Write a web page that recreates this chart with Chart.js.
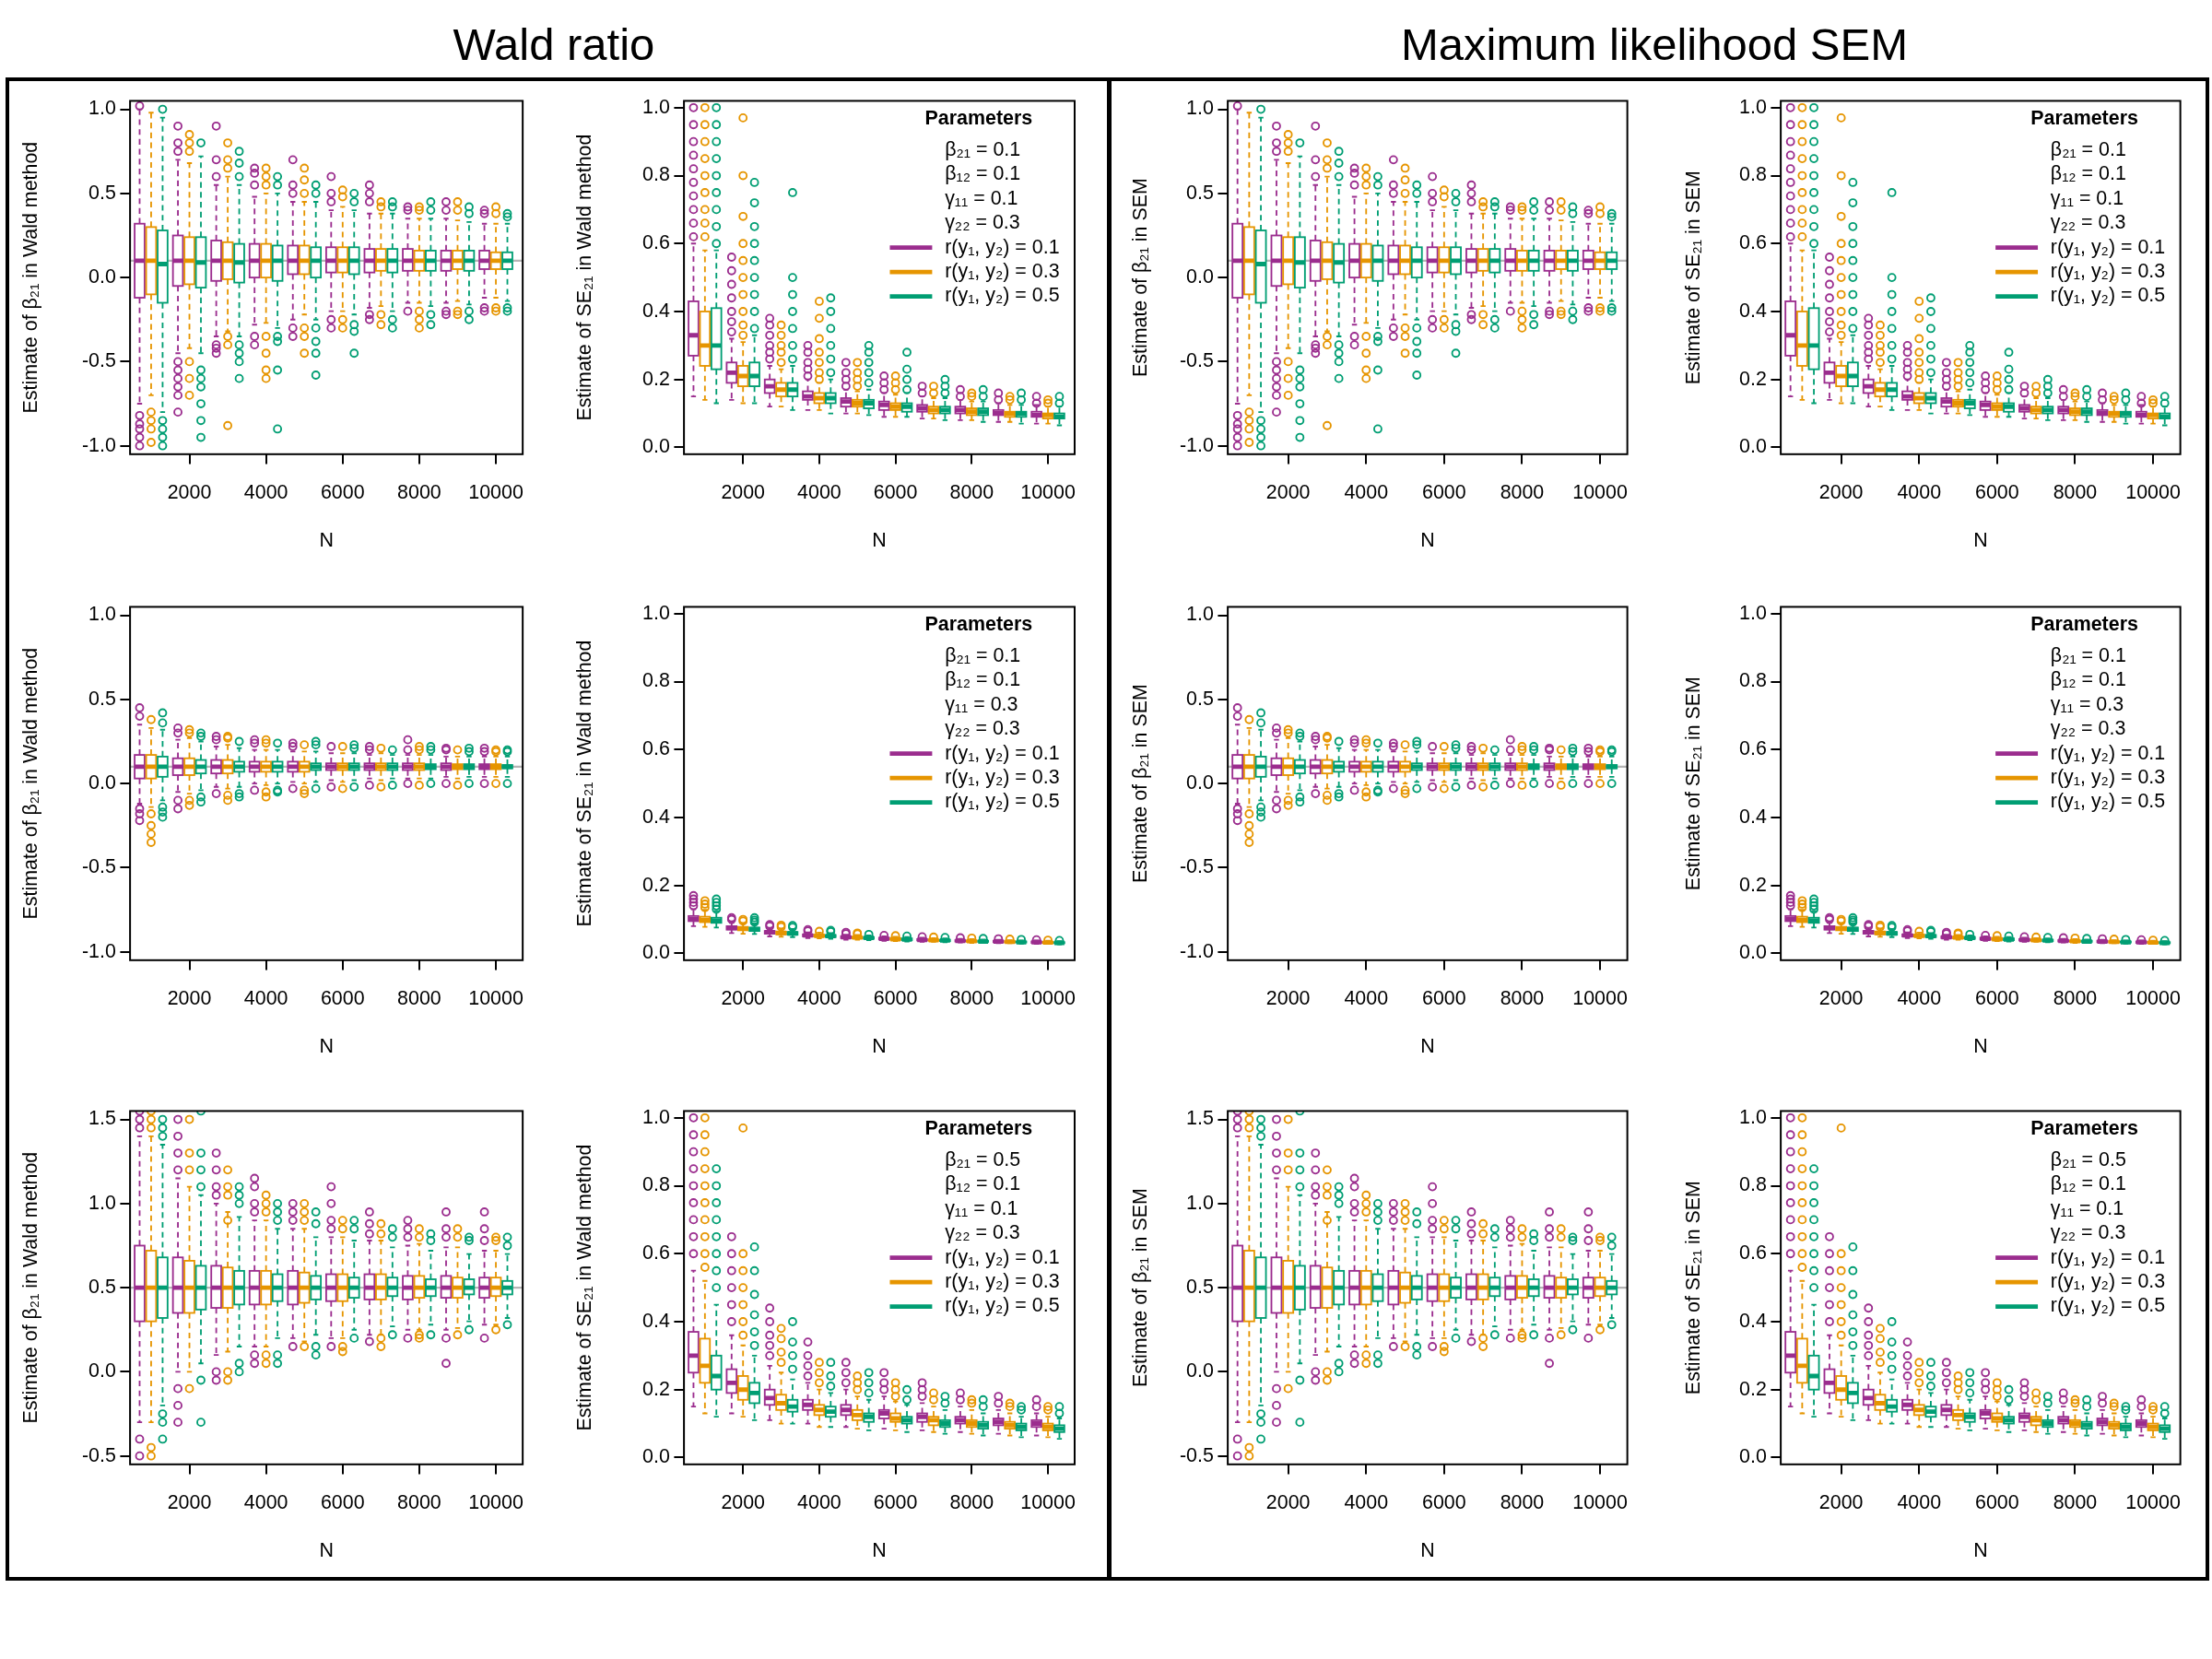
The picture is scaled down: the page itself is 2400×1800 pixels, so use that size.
<!DOCTYPE html>
<html>
<head>
<meta charset="utf-8">
<script src="https://cdn.jsdelivr.net/npm/chart.js@4"></script>
<style>
  body { margin: 0; background: #fff; }
  #page { position: relative; width: 2400px; height: 1800px; font-family: 'Liberation Sans', Arial, sans-serif; }
  .frame { position: absolute; border: 4px solid #000; box-sizing: border-box; }
  .title { position: absolute; font-size: 49px; text-align: center; width: 1190px; }
  canvas { position: absolute; }
</style>
</head>
<body>
<div id="page">
  <div class="title" style="left:6px;top:20px">Wald ratio</div>
  <div class="title" style="left:1200px;top:20px">Maximum likelihood SEM</div>
  <div class="frame" style="left:6px;top:84px;width:1200px;height:1631px"></div>
  <div class="frame" style="left:1201px;top:84px;width:1196px;height:1631px"></div>
</div>
<script>
const S = 2400 / 1568;
const COLORS = ['#9b2d8e', '#e69500', '#009e73'];
const nValues = [1000, 2000, 3000, 4000, 5000, 6000, 7000, 8000, 9000, 10000];
const xTicks = [2000, 4000, 6000, 8000, 10000];
const rValues = [0.1, 0.3, 0.5];

// five-number summaries [lowWhisker, q1, median, q3, highWhisker] per N
// row 1: beta21 = 0.1, gamma11 = 0.1
const r1BetaP = [[-0.75,-0.12,0.1,0.32,1.0],[-0.45,-0.05,0.1,0.25,0.7],[-0.35,-0.02,0.1,0.22,0.55],[-0.28,0.0,0.1,0.2,0.48],[-0.25,0.02,0.1,0.19,0.45],[-0.2,0.03,0.1,0.18,0.4],[-0.18,0.03,0.1,0.17,0.38],[-0.15,0.04,0.1,0.17,0.35],[-0.15,0.04,0.1,0.16,0.35],[-0.12,0.05,0.1,0.16,0.32]];
const r1BetaO = [[-0.7,-0.1,0.1,0.3,0.98],[-0.42,-0.04,0.1,0.24,0.68],[-0.32,-0.01,0.1,0.21,0.6],[-0.27,0.0,0.1,0.2,0.5],[-0.22,0.02,0.1,0.19,0.45],[-0.2,0.03,0.1,0.18,0.42],[-0.17,0.04,0.1,0.17,0.38],[-0.15,0.04,0.1,0.16,0.35],[-0.14,0.05,0.1,0.16,0.34],[-0.12,0.05,0.1,0.15,0.32]];
const r1BetaG = [[-0.8,-0.15,0.08,0.28,0.95],[-0.45,-0.06,0.09,0.24,0.72],[-0.35,-0.03,0.09,0.2,0.55],[-0.3,-0.02,0.1,0.19,0.5],[-0.25,0.0,0.1,0.18,0.45],[-0.22,0.02,0.1,0.18,0.4],[-0.2,0.03,0.1,0.17,0.38],[-0.17,0.04,0.1,0.16,0.35],[-0.16,0.04,0.1,0.16,0.33],[-0.14,0.05,0.1,0.15,0.32]];
const r1BetaPOut = [[-0.82,-0.87,-0.9,-0.95,-1.0,1.02],[-0.5,-0.55,-0.6,-0.65,-0.7,-0.8,0.75,0.8,0.9],[-0.4,-0.42,-0.45,0.6,0.7,0.9],[-0.35,-0.4,0.55,0.62,0.65],[-0.3,-0.35,0.5,0.55,0.7],[-0.25,-0.3,0.45,0.5,0.6],[-0.22,-0.25,0.45,0.5,0.55],[-0.2,0.4,0.42],[-0.2,-0.22,0.4,0.45],[-0.18,-0.2,0.38,0.4]];
const r1BetaOOut = [[-0.8,-0.85,-0.9,-0.98],[-0.5,-0.6,-0.7,0.75,0.8,0.85],[-0.35,-0.4,-0.88,0.65,0.7,0.8],[-0.35,-0.45,-0.55,-0.6,0.55,0.6,0.65],[-0.3,-0.35,-0.45,0.5,0.58,0.65],[-0.25,-0.3,0.48,0.52],[-0.22,-0.28,0.42,0.45],[-0.2,-0.25,-0.3,0.4,0.42],[-0.2,-0.22,0.4,0.45],[-0.18,-0.2,0.38,0.42]];
const r1BetaGOut = [[-0.85,-0.9,-0.95,-1.0,1.0],[-0.55,-0.6,-0.65,-0.75,-0.85,-0.95,0.8],[-0.4,-0.45,-0.5,-0.6,0.6,0.68,0.75],[-0.35,-0.38,-0.55,-0.9,0.55,0.6],[-0.3,-0.38,-0.45,-0.58,0.5,0.55],[-0.28,-0.32,-0.45,0.45,0.5],[-0.25,-0.3,0.42,0.45],[-0.22,-0.28,0.4,0.45],[-0.2,-0.25,0.38,0.42],[-0.18,-0.2,0.36,0.38]];

const r1SeP = [[0.15,0.27,0.33,0.43,0.6],[0.14,0.19,0.22,0.25,0.32],[0.12,0.16,0.18,0.2,0.24],[0.11,0.14,0.15,0.165,0.2],[0.1,0.12,0.135,0.145,0.17],[0.09,0.11,0.125,0.135,0.16],[0.085,0.105,0.115,0.125,0.15],[0.08,0.1,0.11,0.12,0.14],[0.075,0.095,0.1,0.11,0.13],[0.07,0.09,0.095,0.105,0.125]];
const r1SeO = [[0.14,0.24,0.3,0.4,0.58],[0.13,0.18,0.21,0.24,0.31],[0.12,0.15,0.17,0.19,0.23],[0.11,0.13,0.145,0.16,0.19],[0.1,0.12,0.13,0.14,0.165],[0.09,0.11,0.12,0.13,0.155],[0.085,0.1,0.11,0.12,0.145],[0.08,0.095,0.105,0.115,0.135],[0.075,0.09,0.1,0.105,0.125],[0.07,0.085,0.095,0.1,0.12]];
const r1SeG = [[0.13,0.23,0.3,0.41,0.58],[0.13,0.18,0.21,0.25,0.33],[0.11,0.15,0.17,0.19,0.24],[0.1,0.13,0.145,0.16,0.2],[0.095,0.115,0.13,0.14,0.17],[0.09,0.105,0.12,0.13,0.16],[0.08,0.1,0.11,0.12,0.145],[0.075,0.095,0.105,0.115,0.135],[0.07,0.09,0.1,0.105,0.125],[0.065,0.085,0.09,0.1,0.12]];
const r1SePOut = [[0.62,0.66,0.7,0.74,0.78,0.82,0.86,0.9,0.95,1.0],[0.34,0.37,0.4,0.44,0.48,0.52,0.56],[0.26,0.28,0.3,0.33,0.36,0.38],[0.21,0.23,0.25,0.28,0.3],[0.18,0.2,0.22,0.25],[0.17,0.19,0.21],[0.16,0.18],[0.15,0.17],[0.14,0.16],[0.13,0.15]];
const r1SeOOut = [[0.62,0.66,0.7,0.75,0.8,0.85,0.9,0.95,1.0],[0.33,0.36,0.4,0.45,0.5,0.55,0.6,0.68,0.8,0.97],[0.25,0.28,0.3,0.33,0.36],[0.2,0.22,0.25,0.28,0.32,0.38,0.43],[0.18,0.2,0.22,0.25],[0.17,0.19,0.21],[0.16,0.18],[0.15,0.16],[0.14,0.15],[0.13,0.14]];
const r1SeGOut = [[0.6,0.65,0.7,0.75,0.8,0.85,0.9,0.95,1.0],[0.35,0.4,0.45,0.5,0.55,0.6,0.65,0.72,0.78],[0.26,0.3,0.35,0.4,0.45,0.5,0.75],[0.22,0.26,0.3,0.35,0.4,0.44],[0.19,0.22,0.25,0.28,0.3],[0.17,0.2,0.23,0.28],[0.16,0.18,0.2],[0.15,0.17],[0.14,0.16],[0.13,0.15]];

// row 2: beta21 = 0.1, gamma11 = 0.3
const r2BetaP = [[-0.12,0.03,0.1,0.17,0.35],[-0.05,0.05,0.1,0.15,0.26],[-0.02,0.06,0.1,0.14,0.22],[0.0,0.07,0.1,0.13,0.2],[0.01,0.07,0.1,0.13,0.19],[0.02,0.08,0.1,0.12,0.18],[0.03,0.08,0.1,0.12,0.17],[0.03,0.08,0.1,0.12,0.17],[0.04,0.08,0.1,0.12,0.16],[0.04,0.085,0.1,0.115,0.16]];
const r2BetaO = [[-0.14,0.03,0.1,0.17,0.33],[-0.06,0.05,0.1,0.15,0.27],[-0.03,0.06,0.1,0.14,0.23],[-0.01,0.07,0.1,0.13,0.2],[0.0,0.07,0.1,0.13,0.19],[0.01,0.08,0.1,0.12,0.18],[0.02,0.08,0.1,0.12,0.18],[0.03,0.08,0.1,0.12,0.17],[0.03,0.085,0.1,0.115,0.16],[0.04,0.085,0.1,0.115,0.16]];
const r2BetaG = [[-0.1,0.04,0.1,0.16,0.32],[-0.04,0.06,0.1,0.14,0.25],[-0.02,0.07,0.1,0.13,0.21],[0.0,0.07,0.1,0.13,0.2],[0.01,0.08,0.1,0.12,0.19],[0.02,0.08,0.1,0.12,0.18],[0.03,0.08,0.1,0.12,0.17],[0.03,0.085,0.1,0.115,0.17],[0.04,0.085,0.1,0.115,0.16],[0.04,0.09,0.1,0.11,0.16]];
const r2BetaPOut = [[-0.15,-0.18,-0.22,0.4,0.45],[-0.1,-0.15,0.3,0.33],[-0.06,0.26,0.28],[-0.04,0.24,0.26],[-0.03,0.22,0.24],[-0.02,0.22],[-0.01,0.2,0.22],[0.0,0.2,0.26],[0.0,0.2,0.21],[0.0,0.19,0.21]];
const r2BetaOOut = [[-0.18,-0.25,-0.3,-0.35,0.38],[-0.1,-0.13,0.3,0.32],[-0.07,-0.1,0.27,0.28],[-0.05,-0.08,0.24,0.26],[-0.04,-0.06,0.23],[-0.03,0.22],[-0.02,0.21],[-0.01,0.2,0.22],[-0.01,0.2],[0.0,0.19,0.2]];
const r2BetaGOut = [[-0.14,-0.17,-0.2,0.36,0.42],[-0.08,-0.11,0.28,0.3],[-0.06,-0.08,0.25],[-0.04,-0.05,0.24],[-0.03,0.23,0.25],[-0.02,0.21,0.23],[-0.01,0.2],[0.0,0.2,0.22],[0.0,0.19,0.21],[0.0,0.19,0.2]];

const r2SeP = [[0.08,0.095,0.1,0.11,0.13],[0.06,0.07,0.075,0.08,0.09],[0.05,0.058,0.062,0.066,0.075],[0.045,0.05,0.053,0.056,0.062],[0.04,0.045,0.048,0.05,0.055],[0.037,0.041,0.043,0.046,0.05],[0.034,0.038,0.04,0.042,0.046],[0.032,0.035,0.037,0.039,0.043],[0.03,0.033,0.035,0.037,0.04],[0.028,0.031,0.033,0.035,0.038]];
const r2SeO = [[0.078,0.092,0.098,0.108,0.128],[0.058,0.068,0.073,0.078,0.088],[0.049,0.056,0.06,0.064,0.073],[0.044,0.049,0.052,0.055,0.061],[0.04,0.044,0.047,0.049,0.054],[0.036,0.04,0.042,0.045,0.049],[0.034,0.037,0.039,0.041,0.045],[0.031,0.034,0.036,0.038,0.042],[0.03,0.032,0.034,0.036,0.039],[0.028,0.03,0.032,0.034,0.037]];
const r2SeG = [[0.076,0.09,0.096,0.105,0.125],[0.057,0.066,0.071,0.076,0.086],[0.048,0.055,0.059,0.063,0.072],[0.043,0.048,0.051,0.054,0.06],[0.039,0.043,0.046,0.048,0.053],[0.035,0.039,0.041,0.044,0.048],[0.033,0.036,0.038,0.04,0.044],[0.031,0.034,0.035,0.037,0.041],[0.029,0.032,0.033,0.035,0.038],[0.027,0.03,0.031,0.033,0.036]];
const r2SePOut = [[0.14,0.15,0.16,0.17],[0.1,0.105],[0.08,0.085],[0.066,0.07],[0.058,0.062],[0.053],[0.049],[0.046],[0.043],[0.04]];
const r2SeOOut = [[0.135,0.145,0.155],[0.095,0.1],[0.078,0.083],[0.065],[0.057,0.06],[0.052],[0.048],[0.045],[0.042],[0.039]];
const r2SeGOut = [[0.13,0.14,0.15,0.16],[0.092,0.098,0.105],[0.077,0.082],[0.064,0.068],[0.056],[0.051],[0.047],[0.044],[0.041],[0.038]];

// row 3: beta21 = 0.5, gamma11 = 0.1
const r3BetaP = [[-0.3,0.3,0.5,0.75,1.4],[0.0,0.35,0.5,0.68,1.15],[0.1,0.38,0.5,0.63,1.0],[0.15,0.4,0.5,0.6,0.9],[0.2,0.4,0.5,0.6,0.85],[0.2,0.42,0.5,0.58,0.8],[0.22,0.43,0.5,0.58,0.78],[0.25,0.43,0.5,0.57,0.75],[0.25,0.44,0.5,0.57,0.74],[0.28,0.44,0.5,0.56,0.72]];
const r3BetaO = [[-0.3,0.3,0.5,0.72,1.4],[0.0,0.35,0.5,0.66,1.1],[0.12,0.38,0.5,0.62,0.95],[0.15,0.4,0.5,0.6,0.9],[0.18,0.41,0.5,0.59,0.85],[0.2,0.42,0.5,0.58,0.8],[0.22,0.43,0.5,0.58,0.78],[0.25,0.44,0.5,0.57,0.76],[0.26,0.44,0.5,0.56,0.74],[0.28,0.45,0.5,0.56,0.72]];
const r3BetaG = [[-0.2,0.32,0.5,0.68,1.35],[0.05,0.37,0.5,0.63,1.05],[0.15,0.4,0.5,0.6,0.92],[0.2,0.42,0.5,0.58,0.85],[0.22,0.43,0.5,0.57,0.8],[0.25,0.44,0.5,0.56,0.78],[0.27,0.45,0.5,0.56,0.74],[0.28,0.45,0.5,0.55,0.72],[0.3,0.46,0.5,0.55,0.7],[0.32,0.46,0.5,0.54,0.7]];
const r3BetaPOut = [[-0.4,-0.5,1.45,1.5,1.55],[-0.1,-0.2,-0.3,1.2,1.3,1.4,1.5],[0.0,-0.05,1.05,1.1,1.2,1.3],[0.05,0.1,0.95,1.0,1.1,1.15],[0.15,0.9,0.95,1.0],[0.15,0.85,0.9,1.0,1.1],[0.18,0.82,0.88,0.95],[0.2,0.8,0.85,0.9],[0.05,0.2,0.8,0.85,0.95],[0.2,0.78,0.85,0.95]];
const r3BetaOOut = [[-0.45,-0.5,1.45,1.5,1.55],[-0.1,1.2,1.3,1.5],[0.0,-0.05,0.9,1.05,1.1,1.2],[0.1,0.05,0.95,1.0,1.05],[0.15,0.9,0.95,1.0],[0.15,0.12,0.85,0.9],[0.2,0.15,0.82,0.88],[0.22,0.2,0.8,0.85],[0.22,0.8,0.85],[0.25,0.78,0.8]];
const r3BetaGOut = [[-0.25,-0.3,-0.4,1.4,1.45,1.5],[-0.05,-0.3,1.1,1.2,1.3,1.55],[0.05,0.0,1.0,1.05,1.1],[0.1,0.05,0.9,0.95,1.0],[0.15,0.1,0.88,0.95],[0.2,0.85,0.9],[0.22,0.8,0.85],[0.22,0.78,0.82],[0.25,0.78,0.8],[0.28,0.75,0.8]];

const r3SeP = [[0.15,0.25,0.3,0.37,0.55],[0.13,0.19,0.22,0.26,0.36],[0.11,0.155,0.175,0.2,0.27],[0.1,0.14,0.155,0.17,0.22],[0.09,0.125,0.14,0.155,0.2],[0.085,0.115,0.13,0.14,0.18],[0.08,0.105,0.12,0.13,0.16],[0.075,0.1,0.11,0.12,0.15],[0.07,0.095,0.105,0.115,0.14],[0.065,0.09,0.1,0.11,0.13]];
const r3SeO = [[0.13,0.22,0.27,0.35,0.52],[0.12,0.17,0.2,0.24,0.33],[0.1,0.14,0.16,0.185,0.25],[0.09,0.125,0.14,0.155,0.2],[0.085,0.11,0.125,0.14,0.18],[0.08,0.105,0.115,0.13,0.165],[0.075,0.095,0.11,0.12,0.15],[0.07,0.09,0.1,0.11,0.14],[0.065,0.085,0.095,0.105,0.13],[0.06,0.08,0.09,0.1,0.12]];
const r3SeG = [[0.12,0.2,0.24,0.3,0.45],[0.11,0.16,0.19,0.22,0.3],[0.1,0.135,0.15,0.17,0.23],[0.09,0.12,0.135,0.15,0.19],[0.08,0.105,0.12,0.13,0.17],[0.075,0.1,0.11,0.12,0.155],[0.07,0.09,0.1,0.11,0.14],[0.065,0.085,0.095,0.105,0.13],[0.06,0.08,0.09,0.1,0.12],[0.055,0.075,0.085,0.095,0.115]];
const r3SePOut = [[0.6,0.65,0.7,0.75,0.8,0.85,0.9,0.95,1.0],[0.4,0.45,0.5,0.55,0.6,0.65],[0.3,0.33,0.36,0.4,0.44],[0.24,0.27,0.3,0.34],[0.22,0.25,0.28],[0.2,0.22,0.25],[0.18,0.2,0.22],[0.17,0.19],[0.16,0.18],[0.15,0.17]];
const r3SeOOut = [[0.56,0.6,0.65,0.7,0.75,0.8,0.85,0.9,0.95,1.0],[0.36,0.4,0.45,0.5,0.55,0.6,0.97],[0.28,0.31,0.35,0.38],[0.22,0.25,0.28],[0.2,0.22,0.24],[0.18,0.2,0.22],[0.17,0.19],[0.16,0.17],[0.15,0.16],[0.14,0.15]];
const r3SeGOut = [[0.5,0.55,0.6,0.65,0.7,0.75,0.8,0.85],[0.33,0.37,0.42,0.48,0.55,0.62],[0.26,0.3,0.34,0.4],[0.21,0.24,0.28],[0.19,0.22,0.25],[0.17,0.2],[0.16,0.18],[0.15,0.17],[0.14,0.15],[0.13,0.15]];

const boxGroups = {
  r1Beta: [[r1BetaP, r1BetaPOut], [r1BetaO, r1BetaOOut], [r1BetaG, r1BetaGOut]],
  r1Se: [[r1SeP, r1SePOut], [r1SeO, r1SeOOut], [r1SeG, r1SeGOut]],
  r2Beta: [[r2BetaP, r2BetaPOut], [r2BetaO, r2BetaOOut], [r2BetaG, r2BetaGOut]],
  r2Se: [[r2SeP, r2SePOut], [r2SeO, r2SeOOut], [r2SeG, r2SeGOut]],
  r3Beta: [[r3BetaP, r3BetaPOut], [r3BetaO, r3BetaOOut], [r3BetaG, r3BetaGOut]],
  r3Se: [[r3SeP, r3SePOut], [r3SeO, r3SeOOut], [r3SeG, r3SeGOut]]
};
const rowParams = [
  ['β₂₁ = 0.1', 'β₁₂ = 0.1', 'γ₁₁ = 0.1', 'γ₂₂ = 0.3'],
  ['β₂₁ = 0.1', 'β₁₂ = 0.1', 'γ₁₁ = 0.3', 'γ₂₂ = 0.3'],
  ['β₂₁ = 0.5', 'β₁₂ = 0.1', 'γ₁₁ = 0.1', 'γ₂₂ = 0.3']
];
const OFFSET = 300, HALF = 130;

const boxPlugin = {
  id: 'boxes',
  beforeDatasetsDraw(chart, args, o) {
    const { ctx, chartArea: a, scales: { x, y } } = chart;
    ctx.save();
    ctx.beginPath();
    ctx.rect(a.left, a.top, a.right - a.left, a.bottom - a.top);
    ctx.clip();
    if (o.ref != null) {
      ctx.strokeStyle = '#b5b5b5';
      ctx.lineWidth = 1.5 * S;
      const py = y.getPixelForValue(o.ref);
      ctx.beginPath(); ctx.moveTo(a.left, py); ctx.lineTo(a.right, py); ctx.stroke();
    }
    o.groups.forEach(([stats], k) => {
      ctx.strokeStyle = COLORS[k];
      stats.forEach((s, i) => {
        const xc = nValues[i] + (k - 1) * OFFSET;
        const px = x.getPixelForValue(xc);
        const hw = x.getPixelForValue(xc + HALF) - px;
        const [lo, q1, md, q3, hi] = s.map(v => y.getPixelForValue(v));
        ctx.lineWidth = 1.2 * S;
        ctx.setLineDash([4 * S, 3 * S]);
        ctx.beginPath();
        ctx.moveTo(px, q3); ctx.lineTo(px, hi);
        ctx.moveTo(px, q1); ctx.lineTo(px, lo);
        ctx.stroke();
        ctx.setLineDash([]);
        ctx.beginPath();
        ctx.moveTo(px - hw / 2, hi); ctx.lineTo(px + hw / 2, hi);
        ctx.moveTo(px - hw / 2, lo); ctx.lineTo(px + hw / 2, lo);
        ctx.stroke();
        ctx.fillStyle = '#fff';
        ctx.fillRect(px - hw, q3, 2 * hw, q1 - q3);
        ctx.strokeRect(px - hw, q3, 2 * hw, q1 - q3);
        ctx.lineWidth = 3.2 * S;
        ctx.beginPath(); ctx.moveTo(px - hw, md); ctx.lineTo(px + hw, md); ctx.stroke();
      });
    });
    ctx.restore();
  },
  afterDraw(chart, args, o) {
    const { ctx, chartArea: a } = chart;
    ctx.save();
    ctx.strokeStyle = '#000';
    ctx.lineWidth = 1.3 * S;
    ctx.strokeRect(a.left, a.top, a.right - a.left, a.bottom - a.top);
    if (o.legend) {
      const f = 14 * S;
      ctx.fillStyle = '#000';
      ctx.textBaseline = 'middle';
      ctx.font = `bold ${f}px 'Liberation Sans', Arial`;
      ctx.textAlign = 'center';
      ctx.fillText('Parameters', a.right - 68 * S, a.top + 13 * S);
      ctx.textAlign = 'left';
      ctx.font = `${f}px 'Liberation Sans', 'DejaVu Sans', Arial`;
      const tx = a.right - 92 * S;
      o.legend.forEach((t, i) => ctx.fillText(t, tx, a.top + (35 + 17.3 * i) * S));
      rValues.forEach((r, k) => {
        const yy = a.top + (104 + 17.3 * k) * S;
        ctx.strokeStyle = COLORS[k];
        ctx.lineWidth = 3 * S;
        ctx.beginPath(); ctx.moveTo(a.right - 131 * S, yy); ctx.lineTo(a.right - 101 * S, yy); ctx.stroke();
        ctx.fillText(`r(y₁, y₂) = ${r}`, tx, yy);
      });
    }
    ctx.restore();
  }
};

function makePanel(left, top, w, h, key, yTitle, titleOff, yMin, yMax, yStep, ref, legend) {
  const padL = 85, padT = 8, padR = 8, padB = 72;
  const c = document.createElement('canvas');
  c.width = Math.round((w + padL + padR) * S);
  c.height = Math.round((h + padT + padB) * S);
  c.style.left = Math.round((left - padL) * S) + 'px';
  c.style.top = Math.round((top - padT) * S) + 'px';
  document.getElementById('page').appendChild(c);
  const groups = boxGroups[key];
  const datasets = groups.map(([stats, outs], k) => ({
    type: 'scatter',
    data: outs.flatMap((list, i) => list.map(v => ({ x: nValues[i] + (k - 1) * OFFSET, y: v }))),
    pointStyle: 'circle',
    pointRadius: 2.6 * S,
    borderColor: COLORS[k],
    backgroundColor: 'rgba(0,0,0,0)',
    pointBorderWidth: 1.2 * S
  }));
  const tickFont = { size: 14 * S, family: "'Liberation Sans', Arial" };
  new Chart(c, {
    type: 'scatter',
    data: { datasets },
    options: {
      responsive: false,
      devicePixelRatio: 1,
      animation: false,
      events: [],
      layout: { padding: { top: padT * S, right: padR * S, left: 0, bottom: 0 } },
      plugins: { legend: { display: false }, tooltip: { enabled: false },
        boxes: { groups, ref, legend } },
      scales: {
        x: {
          type: 'linear', min: 450, max: 10700,
          afterBuildTicks: s => { s.ticks = xTicks.map(v => ({ value: v })); },
          afterFit: s => { s.height = padB * S; },
          border: { display: false },
          grid: { drawOnChartArea: false, drawTicks: true, tickLength: 7 * S, color: '#000', lineWidth: 1.3 * S },
          ticks: { color: '#000', font: tickFont, padding: 12 * S, maxRotation: 0, callback: v => String(v) },
          title: { display: true, text: 'N', color: '#000', font: tickFont, padding: { top: 0, bottom: 2 * S } }
        },
        y: {
          min: yMin, max: yMax,
          afterBuildTicks: s => {
            const t = [];
            for (let v = Math.ceil(yMin / yStep) * yStep; v <= yMax + 1e-9; v += yStep) t.push({ value: +v.toFixed(2) });
            s.ticks = t;
          },
          afterFit: s => { s.width = padL * S; },
          border: { display: false },
          grid: { drawOnChartArea: false, drawTicks: true, tickLength: 7 * S, color: '#000', lineWidth: 1.3 * S },
          ticks: { color: '#000', font: tickFont, padding: 3 * S, callback: v => v.toFixed(1) },
          title: { display: true, text: yTitle, color: '#000', font: tickFont,
            padding: { top: Math.max(0, padL - titleOff - 8) * S, bottom: 0 } }
        }
      }
    },
    plugins: [boxPlugin]
  });
}

const colLefts = [92, 485, 870, 1262];
const colWidths = [283, 282, 288, 288];
const titleOffsets = [70, 70, 62, 62];
const rowTops = [68, 427, 784];
const H = 254;
const rowCfg = [
  { beta: 'r1Beta', se: 'r1Se', bMin: -1.05, bMax: 1.05, bStep: 0.5, ref: 0.1 },
  { beta: 'r2Beta', se: 'r2Se', bMin: -1.05, bMax: 1.05, bStep: 0.5, ref: 0.1 },
  { beta: 'r3Beta', se: 'r3Se', bMin: -0.55, bMax: 1.55, bStep: 0.5, ref: 0.5 }
];
rowCfg.forEach((r, ri) => {
  const top = rowTops[ri];
  ['Wald method', 'SEM'].forEach((m, mi) => {
    const cB = mi * 2, cS = mi * 2 + 1;
    makePanel(colLefts[cB], top, colWidths[cB], H, r.beta, `Estimate of β₂₁ in ${m}`, titleOffsets[cB], r.bMin, r.bMax, r.bStep, r.ref, null);
    makePanel(colLefts[cS], top, colWidths[cS], H, r.se, `Estimate of SE₂₁ in ${m}`, titleOffsets[cS], -0.02, 1.02, 0.2, null, rowParams[ri]);
  });
});
</script>
</body>
</html>
